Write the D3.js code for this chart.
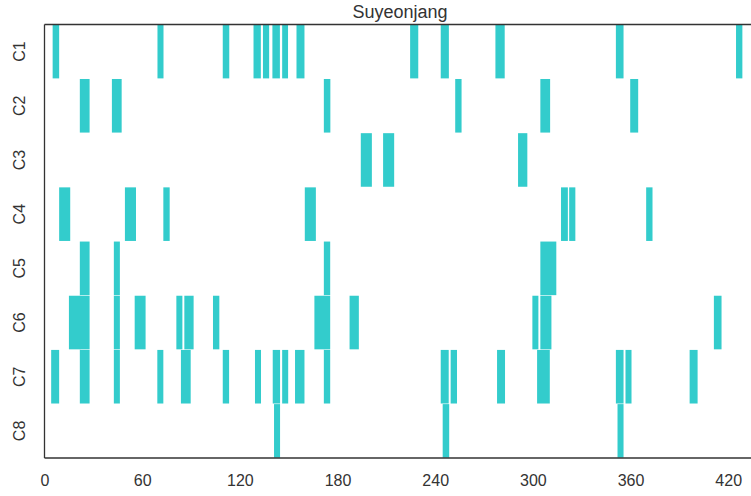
<!DOCTYPE html>
<html><head><meta charset="utf-8">
<script src="https://cdn.jsdelivr.net/npm/d3@7/dist/d3.min.js"></script>
<style>body{margin:0;background:#fff}</style></head>
<body><svg id="c" width="751" height="496"></svg>
<script>
const title = "Suyeonjang";
const categories = ["C1","C2","C3","C4","C5","C6","C7","C8"];
const xTicks = [0,60,120,180,240,300,360,420];
// segments per category: [start, duration]
const segC1 = [[5,4],[69.4,3.7],[109.5,4],[128.4,4.5],[134.2,3.8],[140,4.6],[146,3.6],[154.8,4.9],[224.6,5],[243.4,5],[277,5.7],[351,4.7],[424.8,3.9]];
const segC2 = [[21.7,6],[41.4,6],[171.6,4],[252.3,3.9],[304.6,6],[359.8,4.9]];
const segC3 = [[194.3,6.8],[208,6.8],[290.9,5.7]];
const segC4 = [[9,6.8],[49.4,6.8],[73,3.9],[159.9,6.8],[317.3,4.2],[322.3,3.8],[369.6,3.9]];
const segC5 = [[21.7,6],[42.6,3.7],[171.6,3.9],[304.6,9.8]];
const segC6 = [[15,7],[21.7,6],[42.6,3.7],[55.4,6.7],[81,3.7],[85.9,5.7],[103.5,3.9],[165.8,6],[171.6,3.9],[187.4,5.7],[299.7,3.7],[304.6,6.8],[411.2,4.7]];
const segC7 = [[4.1,4.9],[21.7,6],[42.6,3.7],[69.3,3.7],[83.8,6],[109.5,3.9],[129.3,3.7],[140.2,4.5],[146,3.7],[153.9,5.8],[171.6,3.9],[243.4,4.9],[249.5,3.9],[278,4.9],[302.6,7.8],[351,4.7],[356.9,3.7],[396.3,4.9]];
const segC8 = [[141,3.7],[244.6,4],[352,3.7]];
const segments = [segC1,segC2,segC3,segC4,segC5,segC6,segC7,segC8];

const svg = d3.select("#c");
const L = 44.5, R = 751, T = 24.5, B = 458;
const x = d3.scaleLinear().domain([0, 434]).range([L, R]);
const y = d3.scaleBand().domain(categories).range([T, B]).padding(0);
const color = "#33cccc";
const font = "'Liberation Sans', Arial, sans-serif";

const g = svg.append("g");
categories.forEach((c, i) => {
  g.selectAll(null).data(segments[i]).enter().append("rect")
    .attr("x", d => x(d[0]))
    .attr("width", d => x(d[0] + d[1]) - x(d[0]))
    .attr("y", y(c) + 0.3)
    .attr("height", y.bandwidth() - 0.6)
    .attr("fill", color);
});

// axes
const xAxis = svg.append("g").attr("transform", `translate(0,${B})`)
  .call(d3.axisBottom(x).tickValues(xTicks).tickSize(0).tickPadding(17));
xAxis.select(".domain").remove();
xAxis.selectAll("text").attr("font-family", font).attr("font-size", 16).attr("fill", "#333");

const yAxis = svg.append("g").attr("transform", `translate(${L},0)`)
  .call(d3.axisLeft(y).tickSize(0).tickPadding(0));
yAxis.select(".domain").remove();
yAxis.selectAll(".tick text")
  .attr("font-family", font).attr("font-size", 16).attr("fill", "#333")
  .attr("text-anchor", "middle")
  .attr("transform", "translate(-25,0) rotate(-90)")
  .attr("x", 0).attr("dy", "0.35em");

// spines
const sp = svg.append("g").attr("stroke", "#333").attr("stroke-width", 1.3).attr("fill", "none");
sp.append("line").attr("x1", L).attr("x2", L).attr("y1", T).attr("y2", B);
sp.append("line").attr("x1", L).attr("x2", R).attr("y1", T).attr("y2", T);
sp.append("line").attr("x1", L).attr("x2", R).attr("y1", B).attr("y2", B);

svg.append("text").attr("x", 400).attr("y", 18)
  .attr("text-anchor", "middle").attr("font-family", font).attr("font-size", 18)
  .attr("fill", "#333").text(title);
</script></body></html>
